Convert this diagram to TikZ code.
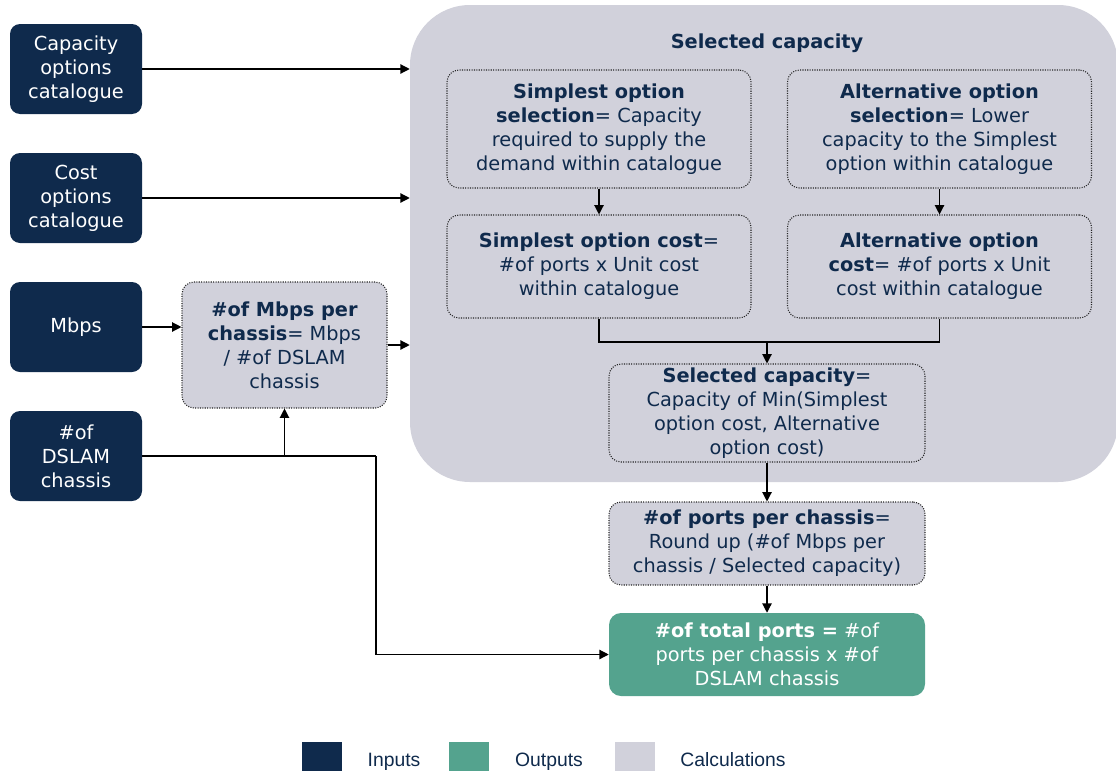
\documentclass[tikz,border=0pt]{standalone}
\usepackage{fontspec}
\setmainfont{DejaVu Sans}
\newfontfamily\legendfont{Liberation Sans}
\usetikzlibrary{
    arrows.meta,
    calc,
    positioning
}
\definecolor{navy}{HTML}{0F2A4C}
\definecolor{teal}{HTML}{54A38E}
\definecolor{calcgray}{HTML}{D1D1DB}
\tikzset{inp/.style={inner sep=0pt, rounded corners=7.5pt, fill=navy, text=white, align=center, minimum width=99pt, minimum height=67.5pt, font=\fontsize{14.5}{18}\selectfont}}
\tikzset{calc/.style={inner sep=0pt, rounded corners=9pt, draw=black!85, densely dotted, line width=0.8pt, fill=calcgray, text=navy, align=center, font=\fontsize{14.5}{18}\selectfont}}
\tikzset{outp/.style={inner sep=0pt, rounded corners=9pt, fill=teal, text=white, align=center, minimum width=237pt, minimum height=62.25pt, font=\fontsize{14.5}{18}\selectfont}}
\tikzset{arr/.style={line width=0.9pt, -{Triangle[length=7pt, width=7pt]}}}
\tikzset{lnk/.style={line width=0.9pt}}
\tikzset{key/.style={inner sep=0pt, minimum width=30pt, minimum height=21.75pt}}
\tikzset{keytext/.style={anchor=base, text=navy, font=\legendfont\fontsize{14.5}{18}\selectfont}}

\begin{document}
\begin{tikzpicture}[x=0.75pt, y=-0.75pt]
    \useasboundingbox (0, 0) rectangle (1116, 771);

    % background for the capacity selection
    \node[fill=calcgray, rounded corners=45pt, minimum width=531pt, minimum height=357.75pt, inner sep=0pt] (region) at (764, 243.5) {};
    \node[text=navy, font=\fontsize{14.5}{18}\selectfont\bfseries] (title) at (767, 43) {Selected capacity};

    % inputs
    \node[inp] (cap) at (76, 69) {Capacity\\options\\catalogue};
    \node[inp] (cost) at (76, 198) {Cost\\options\\catalogue};
    \node[inp] (mbps) at (76, 327) {Mbps};
    \node[inp] (dslam) at (76, 456) {\#of\\DSLAM\\chassis};

    % calculations
    \node[calc, minimum width=153.75pt, minimum height=94.5pt] (mpc) at (284.5, 345) {\textbf{\#of Mbps per}\\\textbf{chassis}= Mbps\\/ \#of DSLAM\\chassis};
    \node[calc, minimum width=228pt, minimum height=88.5pt] (ssel) at (599, 129) {\textbf{Simplest option}\\\textbf{selection}= Capacity\\required to supply the\\demand within catalogue};
    \node[calc, minimum width=228pt, minimum height=88.5pt] (asel) at (939.5, 129) {\textbf{Alternative option}\\\textbf{selection}= Lower\\capacity to the Simplest\\option within catalogue};
    \node[calc, minimum width=228pt, minimum height=77.25pt] (sc) at (599, 266.5) {\textbf{Simplest option cost}=\\\#of ports x Unit cost\\within catalogue};
    \node[calc, minimum width=228pt, minimum height=77.25pt] (ac) at (939.5, 266.5) {\textbf{Alternative option}\\\textbf{cost}= \#of ports x Unit\\cost within catalogue};
    \node[calc, minimum width=237pt, minimum height=73.5pt] (selc) at (767, 413) {\textbf{Selected capacity}=\\Capacity of Min(Simplest\\option cost, Alternative\\option cost)};
    \node[calc, minimum width=237pt, minimum height=62.25pt] (ppc) at (767, 543.5) {\textbf{\#of ports per chassis}=\\Round up (\#of Mbps per\\chassis / Selected capacity)};

    % output
    \node[outp] (tot) at (767, 654.5) {\textbf{\#of total ports =} \#of\\ports per chassis x \#of\\DSLAM chassis};

    \coordinate (join) at (767, 342);
    \coordinate (turn) at (376, 456);

    \draw[arr] (cap.east) -- (cap.east -| region.west);
    \draw[arr] (cost.east) -- (cost.east -| region.west);
    \draw[arr] (mbps.east) -- (mbps.east -| mpc.west);
    \draw[arr] (mpc.east) -- (mpc.east -| region.west);
    \draw[lnk] (dslam.east) -- (turn);
    \draw[arr] (turn) |- (tot.west);
    \draw[arr] (mpc.south |- dslam.east) -- (mpc.south);
    \draw[arr] (ssel) -- (sc);
    \draw[arr] (asel) -- (ac);
    \draw[lnk] (sc.south) |- (join) -| (ac.south);
    \draw[arr] (join) -- (selc.north);
    \draw[arr] (selc) -- (ppc);
    \draw[arr] (ppc) -- (tot);

    % legend
    \node[key, fill=navy] (kin) at (322, 756.5) {};
    \node[key, fill=teal] (kout) at (469, 756.5) {};
    \node[key, fill=calcgray] (kcalc) at (635, 756.5) {};
    \node[keytext] (lin) at (394, 766) {Inputs};
    \node[keytext] (lout) at (549, 766) {Outputs};
    \node[keytext] (lcalc) at (733, 766) {Calculations};
\end{tikzpicture}
\end{document}
